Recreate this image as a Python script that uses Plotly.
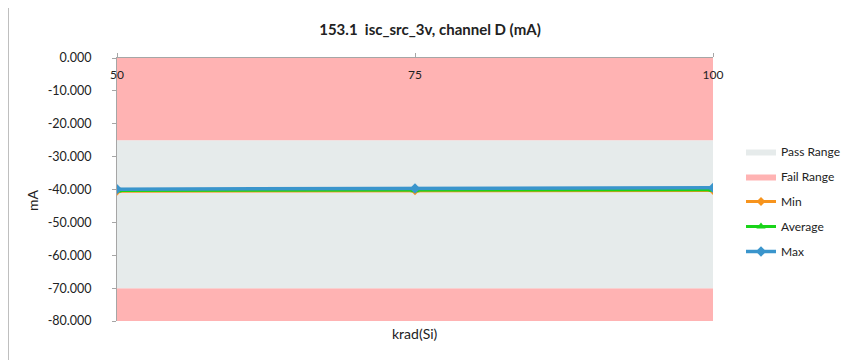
import plotly.graph_objects as go

# krad(Si) steps
krad = [50, 75, 100]

# measured isc_src_3v channel D, mA
min_ma = [-40.5, -40.4, -40.3]
avg_ma = [-40.3, -40.2, -40.1]
max_ma = [-39.9, -39.7, -39.5]

# limits
fail_top = [0, 0, 0]
pass_hi = [-25, -25, -25]
pass_lo = [-70, -70, -70]
fail_bottom = [-80, -80, -80]

y_ticks = [0, -10, -20, -30, -40, -50, -60, -70, -80]
y_ticktext = ["%.3f" % v for v in y_ticks]

PINK = "#FFB3B3"
PASS = "#E6EBEB"
FONT = "Lato, 'Open Sans', Arial, sans-serif"
AXIS = "#A6A6A6"

fig = go.Figure()

# stacked bands: bottom fail, pass, top fail
fig.add_trace(go.Scatter(x=krad, y=fail_bottom, mode="lines", line=dict(width=0),
                         showlegend=False, hoverinfo="skip"))
fig.add_trace(go.Scatter(x=krad, y=pass_lo, mode="lines", line=dict(width=0),
                         fill="tonexty", fillcolor=PINK, showlegend=False, hoverinfo="skip"))
fig.add_trace(go.Scatter(x=krad, y=pass_hi, mode="lines", line=dict(width=0),
                         fill="tonexty", fillcolor=PASS, name="Pass Range", legendgroup="a"))
fig.add_trace(go.Scatter(x=krad, y=fail_top, mode="lines", line=dict(width=0),
                         fill="tonexty", fillcolor=PINK, name="Fail Range", legendgroup="b"))

fig.add_trace(go.Scatter(x=krad, y=min_ma, name="Min", mode="lines+markers", legendgroup="c",
                         line=dict(color="#F7941D", width=3),
                         marker=dict(symbol="diamond", size=7)))
fig.add_trace(go.Scatter(x=krad, y=avg_ma, name="Average", mode="lines+markers", legendgroup="d",
                         line=dict(color="#19D419", width=3),
                         marker=dict(symbol="triangle-up", size=8)))
fig.add_trace(go.Scatter(x=krad, y=max_ma, name="Max", mode="lines+markers", legendgroup="e",
                         line=dict(color="#3A95CC", width=3.5),
                         marker=dict(symbol="diamond", size=8)))

# top axis line + tick marks only
fig.add_trace(go.Scatter(x=krad, y=fail_top, xaxis="x2", mode="markers",
                         marker=dict(opacity=0), showlegend=False, hoverinfo="skip"))

# page has an 8px body margin, so work in screen pixels and shift
OFF = 8
W, H = 852 - OFF, 360 - OFF
L, R, T, B = 117 - OFF, 852 - 713, 58 - OFF, 360 - 321
pw, ph = W - L - R, H - T - B


def px(x):
    return (x - OFF - L) / pw


def py(y):
    return 1 - (y - OFF - T) / ph


fig.add_shape(type="rect", xref="paper", yref="paper",
              x0=px(8.5), x1=px(900), y0=py(7.5), y1=py(400),
              line=dict(color="#BFBFBF", width=1), layer="below")

fig.add_annotation(text="krad(Si)", xref="paper", yref="paper", x=0.5, y=py(333),
                   xanchor="center", yanchor="middle", showarrow=False,
                   font=dict(size=14, family=FONT, color="#222"))
fig.add_annotation(text="mA", xref="paper", yref="paper", x=px(32), y=py(200),
                   xanchor="center", yanchor="middle", showarrow=False, textangle=-90,
                   font=dict(size=14, family=FONT, color="#222"))

fig.update_layout(
    width=W, height=H,
    margin=dict(l=L, r=R, t=T, b=B, autoexpand=False),
    paper_bgcolor="white", plot_bgcolor="white",
    font=dict(family=FONT, size=13, color="#222"),
    title=dict(text="<b>153.1  isc_src_3v, channel D (mA)</b>", x=0.5, xanchor="center",
               y=1 - (30 - OFF) / H, yanchor="middle", font=dict(size=15, family=FONT)),
    showlegend=True,
    legend=dict(x=px(741), y=py(137), xanchor="left", yanchor="top", traceorder="grouped",
                font=dict(size=12, family=FONT), tracegroupgap=6,
                itemwidth=30, bgcolor="rgba(0,0,0,0)"),
    xaxis=dict(range=[50, 100], tickvals=krad, ticktext=[str(k) for k in krad],
               side="bottom", anchor="free", position=py(66), ticks="", showline=False,
               showgrid=False, zeroline=False, tickfont=dict(size=12), automargin=False),
    xaxis2=dict(range=[50, 100], tickvals=krad, overlaying="x", side="top", anchor="y",
                ticks="outside", ticklen=4, tickcolor=AXIS, showticklabels=False,
                showline=True, linecolor=AXIS, linewidth=1, showgrid=False,
                zeroline=False, automargin=False),
    yaxis=dict(range=[-80, 0], tickvals=y_ticks, ticktext=y_ticktext, ticks="outside",
               ticklen=4, tickcolor=AXIS, showline=True, linecolor=AXIS, linewidth=1,
               showgrid=False, zeroline=False, tickfont=dict(size=12.5),
               ticklabelstandoff=18, automargin=False),
)

fig.write_html("out.html")
